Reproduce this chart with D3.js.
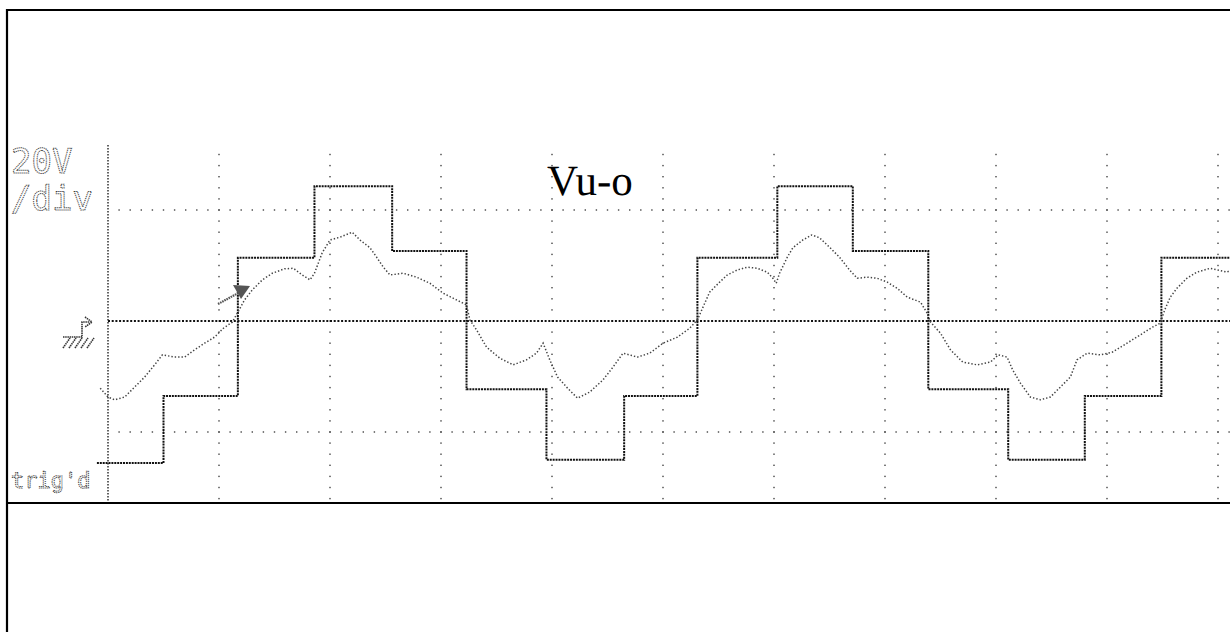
<!DOCTYPE html>
<html>
<head>
<meta charset="utf-8">
<script src="https://cdn.jsdelivr.net/npm/d3@7"></script>
<style>
  html, body { margin: 0; padding: 0; background: #fff; }
  svg { display: block; }
  text { text-rendering: geometricPrecision; }
</style>
</head>
<body>
<div id="scope"></div>
<script>
// x in divisions, y in volts (20 V/div)
const stepTimes  = [-0.10, 0.50, 1.17, 1.86, 2.56, 3.23, 3.95, 4.65, 5.31, 6.03, 6.71, 7.39, 8.11, 8.80, 9.49, 10.12];
const stepLevels = [-25.6, -13.5, 11.4, 24.3, 12.6, -12.3, -25.0, -13.5, 11.4, 24.3, 12.6, -12.3, -25.0, -13.5, 11.4, 11.4];

const waveTimes = [-0.07, 0.00, 0.06, 0.15, 0.24, 0.33, 0.42, 0.49, 0.60, 0.69, 0.78, 0.87, 0.96, 1.04, 1.12, 1.17,
  1.23, 1.30, 1.39, 1.48, 1.59, 1.67, 1.75, 1.82, 1.86, 1.93, 2.00, 2.09, 2.20, 2.27, 2.36, 2.42, 2.48, 2.54,
  2.66, 2.78, 2.90, 3.02, 3.14, 3.23, 3.26, 3.32, 3.41, 3.53, 3.65, 3.77, 3.86, 3.92, 3.98, 4.05, 4.14, 4.23,
  4.34, 4.46, 4.55, 4.64, 4.77, 4.88, 5.00, 5.13, 5.24, 5.31, 5.42, 5.51, 5.58, 5.67, 5.76, 5.85, 5.94, 5.99,
  6.02, 6.05, 6.12, 6.17, 6.26, 6.34, 6.41, 6.50, 6.59, 6.68, 6.75, 6.84, 6.93, 7.02, 7.11, 7.20, 7.32, 7.38,
  7.41, 7.50, 7.59, 7.70, 7.83, 7.95, 8.02, 8.10, 8.15, 8.22, 8.31, 8.40, 8.49, 8.58, 8.67, 8.73, 8.82, 8.94,
  9.05, 9.18, 9.30, 9.41, 9.48, 9.52, 9.57, 9.63, 9.72, 9.81, 9.93, 10.08, 10.12];
const waveVolts = [-12.1, -13.7, -14.2, -13.7, -11.9, -10.1, -7.9, -6.1, -6.5, -6.5, -5.2, -4.0, -2.9, -1.3, -0.2, 1.6,
  3.8, 5.6, 7.4, 8.6, 9.4, 9.5, 8.3, 7.4, 8.6, 12.3, 14.6, 15.1, 16.0, 14.6, 13.2, 11.5, 9.7, 8.3,
  8.6, 7.9, 6.8, 5.0, 3.8, 2.9, 0.2, -1.6, -4.7, -6.7, -7.9, -7.0, -5.8, -4.0, -7.0, -10.1, -12.1, -13.9,
  -12.8, -10.6, -8.3, -5.8, -6.5, -5.8, -4.0, -2.9, -1.3, 0.2, 5.2, 7.0, 8.3, 9.2, 9.7, 9.5, 8.8, 7.7,
  6.8, 8.6, 11.5, 13.2, 14.6, 15.5, 15.0, 13.3, 11.5, 9.2, 7.7, 7.9, 7.7, 7.0, 5.9, 4.3, 3.4, 1.4,
  -0.2, -2.2, -5.2, -7.4, -7.9, -7.4, -6.1, -6.5, -8.8, -11.2, -13.7, -14.2, -13.7, -11.9, -10.1, -7.0, -5.8, -6.1,
  -5.6, -4.0, -2.5, -1.1, -0.4, 2.0, 4.3, 5.9, 7.7, 8.8, 9.5, 8.8, 9.2];

const gridDivsX = [1, 2, 3, 4, 5, 6, 7, 8, 9, 10];
const gridVolts = [-20, 20];
const scaleLabels = ["20V", "/div"];
const traceLabel = "Vu-o";
const trigLabel = "trig'd";

const width = 1230, height = 632;
const screenTop = 145, screenBottom = 503, screenLeft = 108;

const svg = d3.select("#scope").append("svg")
  .attr("width", width)
  .attr("height", height);

const x = d3.scaleLinear().domain([0, 10]).range([108, 1218]);
const y = d3.scaleLinear().domain([-20, 20]).range([432, 210]);

// outer frame
svg.append("path")
  .attr("d", `M7,${height} L7,10 L${width},10`)
  .attr("fill", "none").attr("stroke", "#000").attr("stroke-width", 2.2);
svg.append("line")
  .attr("x1", 7).attr("x2", width).attr("y1", 503).attr("y2", 503)
  .attr("stroke", "#000").attr("stroke-width", 2);

// graticule dots (every 1/10 division)
const grid = svg.append("g").attr("fill", "#444");
const vMin = y.invert(screenBottom - 3), vMax = y.invert(screenTop + 4);
gridDivsX.forEach(d => {
  const ys = d3.range(Math.ceil(vMin / 2) * 2, vMax, 2);
  grid.selectAll(null).data(ys).join("rect")
    .attr("x", x(d) - 0.7).attr("y", v => y(v) - 0.7)
    .attr("width", 1.4).attr("height", 1.4);
});
gridVolts.forEach(v => {
  const ts = d3.range(0.1, x.invert(width) + 0.01, 0.1);
  grid.selectAll(null).data(ts).join("rect")
    .attr("x", t => x(t) - 0.7).attr("y", y(v) - 0.7)
    .attr("width", 1.4).attr("height", 1.4);
});

// centre line and left edge (dense dots)
svg.append("line")
  .attr("x1", screenLeft).attr("x2", width).attr("y1", y(0)).attr("y2", y(0))
  .attr("stroke", "#111").attr("stroke-width", 2).attr("stroke-dasharray", "2,1.7");
svg.append("line")
  .attr("x1", screenLeft).attr("x2", screenLeft).attr("y1", screenTop).attr("y2", screenBottom - 2)
  .attr("stroke", "#222").attr("stroke-width", 1.4).attr("stroke-dasharray", "1.5,1.5");

// traces
svg.append("clipPath").attr("id", "clip")
  .append("rect").attr("x", 94).attr("y", screenTop).attr("width", width - 94).attr("height", screenBottom - screenTop - 2);

const traces = svg.append("g").attr("clip-path", "url(#clip)");

const stepLine = d3.line()
  .x((d, i) => x(stepTimes[i]))
  .y(d => y(d))
  .curve(d3.curveStepAfter);

traces.append("path")
  .attr("d", stepLine(stepLevels))
  .attr("fill", "none")
  .attr("stroke", "#111")
  .attr("stroke-width", 2)
  .attr("stroke-dasharray", "2,0.9");

const waveLine = d3.line()
  .x((d, i) => x(waveTimes[i]))
  .y(d => y(d));

traces.append("path")
  .attr("d", waveLine(waveVolts))
  .attr("fill", "none")
  .attr("stroke", "#444")
  .attr("stroke-width", 1.5)
  .attr("stroke-dasharray", "1.4,2");

// trigger point arrow
const ax0 = 218, ay0 = 304, ax1 = 250, ay1 = 286;
svg.append("line")
  .attr("x1", ax0).attr("y1", ay0).attr("x2", ax1 - 8).attr("y2", ay1 + 5)
  .attr("stroke", "#555").attr("stroke-width", 2.2).attr("stroke-dasharray", "1.6,0.8");
svg.append("path")
  .attr("d", `M${ax1},${ay1} L${ax1 - 17},${ay1 - 1} L${ax1 - 9},${ay1 + 13} Z`)
  .attr("fill", "#555");

// trigger level symbol
const trig = svg.append("g")
  .attr("fill", "none").attr("stroke", "#333").attr("stroke-width", 1.6)
  .attr("stroke-dasharray", "1.5,0.7");
trig.append("path").attr("d", "M63,337 L82,337 L82,322 L90,322");
trig.append("path").attr("d", "M85,317 L92,322 L85,327");
d3.range(5).forEach(i => {
  trig.append("path").attr("d", `M${63 + i * 6},348 L${70 + i * 6},338`);
});

// labels
const labelStyle = sel => sel
  .attr("font-family", "'DejaVu Sans Mono', monospace")
  .attr("fill", "none")
  .attr("stroke", "#444")
  .attr("stroke-width", 1)
  .attr("stroke-dasharray", "1.2,0.8");

svg.append("text").attr("x", 11).attr("y", 173)
  .attr("font-size", 34).text(scaleLabels[0]).call(labelStyle);
svg.append("text").attr("x", 11).attr("y", 210)
  .attr("font-size", 34).text(scaleLabels[1]).call(labelStyle);
svg.append("text").attr("x", 11).attr("y", 488)
  .attr("font-size", 22).text(trigLabel).call(labelStyle);

svg.append("text")
  .attr("x", 547).attr("y", 195)
  .attr("font-family", "'Liberation Serif', 'Times New Roman', serif")
  .attr("font-size", 43)
  .attr("fill", "#000")
  .text(traceLabel);
</script>
</body>
</html>
